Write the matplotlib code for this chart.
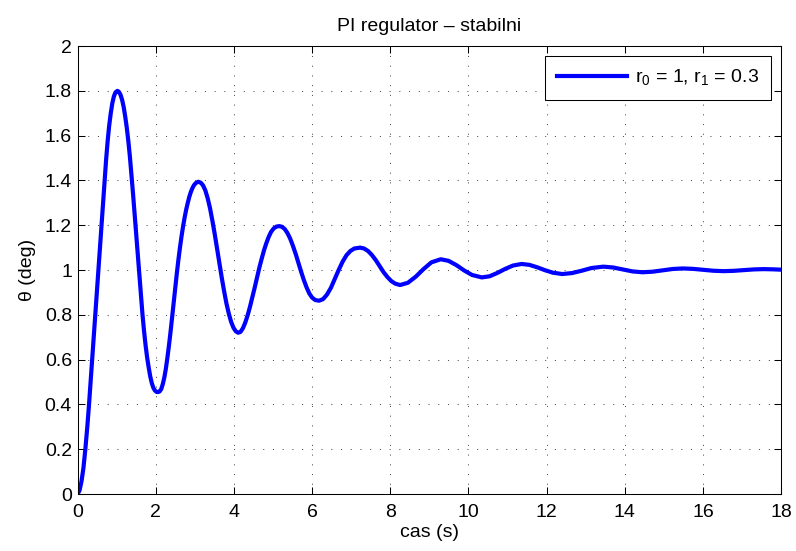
# -*- coding: utf-8 -*-
"""
PI regulator - stable step response (theta vs time)
"""

import matplotlib.pyplot as plt

plt.rcParams['font.family'] = ['Liberation Sans', 'DejaVu Sans']
plt.rcParams['mathtext.fontset'] = 'custom'
plt.rcParams['mathtext.rm'] = 'Liberation Sans'

# values (time in s, angle in deg)
cas = [0, 0.05, 0.10, 0.15, 0.20, 0.25, 0.29, 0.33, 0.37, 0.41, 0.45, 0.49, 0.53, 0.57,
       0.61, 0.65, 0.69, 0.73, 0.77, 0.81, 0.85, 0.89, 0.93, 0.97, 1.02,
       1.06, 1.10, 1.14, 1.18, 1.22, 1.26, 1.30, 1.34, 1.38, 1.42, 1.46, 1.50, 1.54,
       1.58, 1.62, 1.66, 1.70, 1.74, 1.78, 1.82, 1.86, 1.90, 1.94, 1.98, 2.02, 2.06,
       2.10, 2.14, 2.18, 2.22, 2.26, 2.30, 2.34, 2.38, 2.42, 2.46, 2.50, 2.54, 2.58,
       2.62, 2.66, 2.70, 2.74, 2.78, 2.82, 2.86, 2.90, 2.94, 2.98, 3.03, 3.09,
       3.15, 3.21, 3.27, 3.33, 3.39, 3.45, 3.51, 3.57, 3.63, 3.69, 3.75, 3.81, 3.87,
       3.93, 3.99, 4.05, 4.11,
       4.17, 4.23, 4.29, 4.35, 4.41, 4.47, 4.53, 4.59, 4.65, 4.71, 4.77, 4.83, 4.89,
       4.95, 5.02, 5.09, 5.16,
       5.23, 5.30, 5.37, 5.44, 5.51, 5.58, 5.65, 5.72, 5.79, 5.86, 5.93, 6.00, 6.08, 6.18,
       6.28, 6.38, 6.48, 6.58, 6.68, 6.78, 6.88, 6.98, 7.08, 7.23,
       7.33, 7.43, 7.53, 7.63, 7.73, 7.83, 7.93, 8.03, 8.13, 8.25,
       8.45, 8.65, 8.85, 9.05, 9.29,
       9.49, 9.69, 9.89, 10.09, 10.34,
       10.54, 10.74, 10.94, 11.14, 11.36,
       11.56, 11.76, 11.96, 12.16, 12.40,
       12.65, 12.90, 13.15, 13.45,
       13.70, 13.95, 14.20, 14.45,
       14.71, 14.97, 15.22, 15.48,
       15.74, 16.00, 16.26, 16.52,
       16.78, 17.04, 17.30, 17.55, 17.80, 18.00]

theta = [0, 0.015, 0.055, 0.115, 0.20, 0.30, 0.39, 0.49, 0.59, 0.69, 0.79, 0.89, 0.99, 1.09,
         1.19, 1.29, 1.39, 1.49, 1.575, 1.645, 1.70, 1.745, 1.775, 1.793, 1.80,
         1.795, 1.782, 1.76, 1.728, 1.685, 1.635, 1.575, 1.505, 1.425, 1.34, 1.25, 1.16, 1.07,
         0.98, 0.89, 0.805, 0.73, 0.665, 0.61, 0.565, 0.525, 0.495, 0.474, 0.462, 0.456, 0.455,
         0.458, 0.468, 0.49, 0.52, 0.56, 0.61, 0.665, 0.725, 0.79, 0.855, 0.92, 0.985, 1.045,
         1.10, 1.15, 1.195, 1.235, 1.27, 1.30, 1.327, 1.349, 1.366, 1.379, 1.389, 1.394,
         1.39, 1.378, 1.355, 1.32, 1.275, 1.22, 1.16, 1.095, 1.03, 0.965, 0.905, 0.85, 0.805,
         0.768, 0.742, 0.726, 0.72,
         0.724, 0.74, 0.765, 0.797, 0.835, 0.877, 0.92, 0.965, 1.01, 1.05, 1.088, 1.12, 1.148,
         1.17, 1.186, 1.194, 1.196,
         1.193, 1.183, 1.165, 1.14, 1.108, 1.072, 1.032, 0.992, 0.955, 0.922, 0.895, 0.877, 0.866, 0.863,
         0.87, 0.89, 0.92, 0.96, 1.0, 1.037, 1.066, 1.085, 1.096, 1.10,
         1.096, 1.085, 1.067, 1.044, 1.017, 0.99, 0.968, 0.950, 0.939, 0.933,
         0.943, 0.970, 1.004, 1.034, 1.048,
         1.041, 1.022, 0.998, 0.978, 0.967,
         0.972, 0.987, 1.005, 1.020, 1.027,
         1.023, 1.012, 0.999, 0.988, 0.982,
         0.9864, 0.997, 1.009, 1.015,
         1.0113, 1.0025, 0.9937, 0.990,
         0.9925, 0.9985, 1.0045, 1.007,
         1.0052, 1.001, 0.9968, 0.995,
         0.9963, 0.9995, 1.0027, 1.004, 1.003, 1.0015]

xticks = [0, 2, 4, 6, 8, 10, 12, 14, 16, 18]
yticks = [0, 0.2, 0.4, 0.6, 0.8, 1, 1.2, 1.4, 1.6, 1.8, 2]
ytick_labels = ['0', '0.2', '0.4', '0.6', '0.8', '1', '1.2', '1.4', '1.6', '1.8', '2']

fs = 14

fig = plt.figure(figsize=(7.96, 5.51), dpi=100)
ax = fig.add_axes([0.0974, 0.1034, 0.884, 0.8131])

ax.plot(cas, theta, color='#0000ff', linewidth=3, label='r$_0$ = 1, r$_1$ = 0.3')

ax.set_xlim(0, 18)
ax.set_ylim(0, 2)
ax.set_xticks(xticks)
ax.set_yticks(yticks)
ax.set_yticklabels(ytick_labels)
ax.tick_params(direction='in', top=True, right=True, length=5, width=0.75,
               labelsize=fs)
ax.tick_params(axis='x', pad=7)
ax.tick_params(axis='y', pad=4)
for s in ax.spines.values():
    s.set_linewidth(0.75)

ax.grid(True, color='black', linestyle=(0, (1.5, 12.5)), linewidth=0.5)

ax.set_title('PI regulator \u2013 stabilni', fontsize=fs, pad=11)
ax.set_xlabel('cas (s)', fontsize=fs, labelpad=2)
ax.set_ylabel('\u03b8 (deg)', fontsize=fs, labelpad=6)

leg = ax.legend(loc='upper right', fontsize=fs, fancybox=False, framealpha=1,
                edgecolor='black', handlelength=3.6, handletextpad=0.45,
                borderaxespad=0.5, borderpad=0.62)
leg.get_frame().set_linewidth(0.75)

fig.savefig('out.png', dpi=100)
